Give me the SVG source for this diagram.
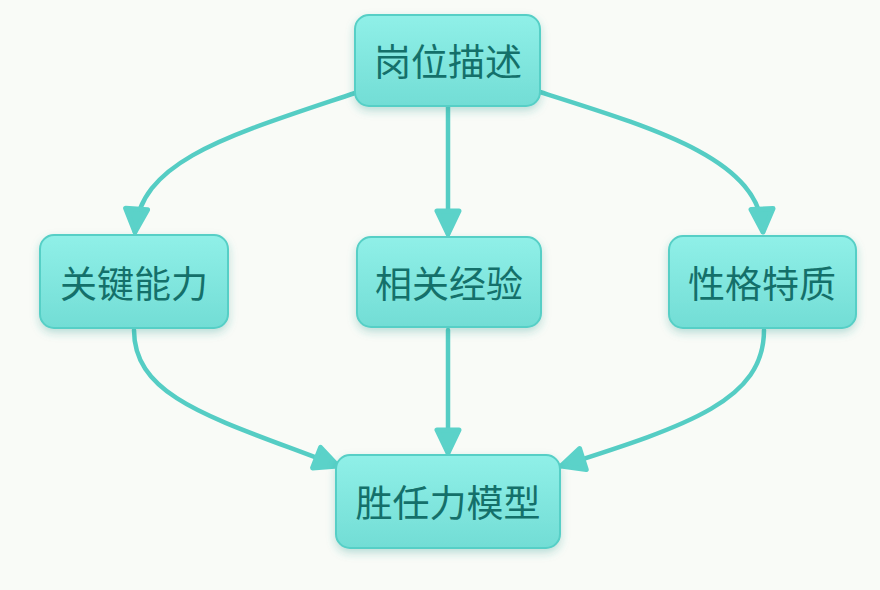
<svg xmlns="http://www.w3.org/2000/svg" width="880" height="590" viewBox="0 0 880 590">
<defs>
<linearGradient id="g" x1="0" y1="0" x2="0" y2="1">
<stop offset="0" stop-color="#90f0e8"/>
<stop offset="1" stop-color="#72ddd5"/>
</linearGradient>
<filter id="sh" x="-20%" y="-20%" width="140%" height="150%">
<feDropShadow dx="0" dy="4" stdDeviation="4" flood-color="#2a9a92" flood-opacity="0.3"/>
</filter>
<marker id="ah" viewBox="0 0 30 30" refX="27" refY="15" markerWidth="30" markerHeight="30" markerUnits="userSpaceOnUse" orient="auto">
<path d="M4,4 L27,15 L4,26 Z" fill="#5bd2c9" stroke="#5bd2c9" stroke-width="5" stroke-linejoin="round"/>
</marker>
<style>
.node rect{fill:url(#g);stroke:#56cfc6;stroke-width:2;filter:url(#sh)}
.node text{font-family:"Noto Sans CJK SC","Noto Sans",sans-serif;font-size:37px;fill:#14706a;text-anchor:middle;dominant-baseline:central}
.edge{fill:none;stroke:#55cdc4;stroke-width:4.5;stroke-linecap:round;marker-end:url(#ah)}
</style>
</defs>
<rect width="880" height="590" fill="#f9fbf7"/>
<g id="connectors">
<path class="edge" d="M355,93 C230,135 140,160 135,232"/>
<path class="edge" d="M448,107 L448,234"/>
<path class="edge" d="M540,92 C660,130 760,160 763,232"/>
<path class="edge" d="M134,330 C134,400 220,420 338,466"/>
<path class="edge" d="M448,330 L448,453"/>
<path class="edge" d="M764,330 C764,400 690,425 561,466"/>
</g>
<g id="n1" class="node"><rect x="355" y="15" width="185" height="91" rx="14"/><text x="448" y="60">岗位描述</text></g>
<g id="n2" class="node"><rect x="40" y="235" width="188" height="93" rx="14"/><text x="134" y="282">关键能力</text></g>
<g id="n3" class="node"><rect x="357" y="237" width="184" height="90" rx="14"/><text x="449" y="282">相关经验</text></g>
<g id="n4" class="node"><rect x="669" y="236" width="187" height="92" rx="14"/><text x="762" y="282">性格特质</text></g>
<g id="n5" class="node"><rect x="336" y="455" width="224" height="93" rx="14"/><text x="448" y="501">胜任力模型</text></g>
</svg>
